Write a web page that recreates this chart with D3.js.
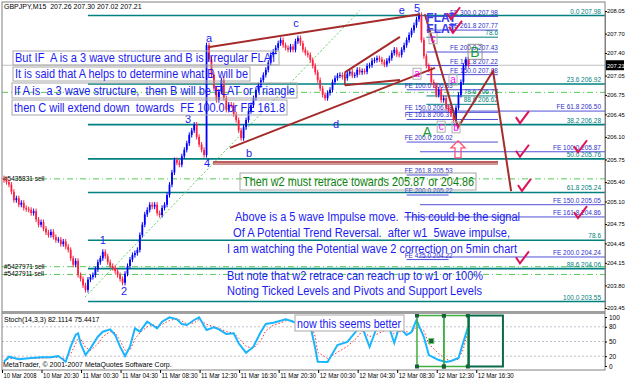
<!DOCTYPE html>
<html>
<head>
<meta charset="utf-8">
<script src="https://cdn.jsdelivr.net/npm/d3@7"></script>
<style>
  body { margin: 0; background: #fff; }
  text { font-family: "Liberation Sans", Arial, sans-serif; }
</style>
</head>
<body>
<div id="chart"></div>
<script>
// GBPJPY M15 closes (open = previous close)
var closes = [
  205.43, 205.40, 205.36, 205.25, 205.12, 205.15, 205.05, 205.08, 205.00, 204.98,
  204.97, 204.92, 204.95, 204.82, 204.74, 204.78, 204.68, 204.62, 204.58, 204.63,
  204.55, 204.50, 204.51, 204.44, 204.48, 204.40, 204.35, 204.22, 204.12, 204.18,
  203.96, 203.90, 203.80, 203.73, 203.89, 203.93, 203.96, 204.05, 204.16, 204.22,
  204.32, 204.25, 204.16, 204.10, 204.07, 204.02, 203.96, 203.90, 203.84, 203.98,
  204.10, 204.20, 204.27, 204.30, 204.35, 204.58, 204.74, 204.90, 204.97, 205.05,
  205.02, 205.05, 204.92, 204.89, 205.00, 205.05, 205.20, 205.36, 205.55, 205.74,
  205.70, 205.67, 205.80, 205.90, 206.00, 206.13, 206.20, 206.29, 206.10, 205.98,
  205.90, 205.82, 207.52, 207.30, 207.06, 206.85, 206.67, 206.80, 206.98, 206.70,
  206.52, 206.60, 206.59, 206.45, 206.36, 206.20, 206.08, 206.25, 206.36, 206.50,
  206.59, 206.70, 206.83, 206.90, 206.98, 207.06, 207.14, 207.25, 207.37, 207.42,
  207.48, 207.55, 207.60, 207.52, 207.48, 207.45, 207.50, 207.45, 207.58, 207.63,
  207.55, 207.45, 207.40, 207.37, 207.29, 207.20, 207.10, 206.98, 206.85, 206.75,
  206.70, 206.78, 206.83, 206.95, 207.01, 207.05, 207.06, 207.03, 207.01, 207.08,
  207.11, 207.05, 207.06, 207.14, 207.10, 207.12, 207.11, 207.20, 207.21, 207.28,
  207.29, 207.32, 207.30, 207.26, 207.22, 207.28, 207.32, 207.40, 207.45, 207.38,
  207.37, 207.45, 207.52, 207.60, 207.68, 207.75, 207.83, 207.92, 207.99, 207.60,
  207.35, 207.20, 207.14, 206.95, 206.90, 206.75, 206.83, 206.67, 206.70, 206.55,
  206.52, 206.45, 206.36, 206.55, 206.75, 206.95, 207.20, 207.30, 207.21
];

var priceTicks = [208.05, 207.70, 207.40, 207.05, 206.75, 206.45, 206.10, 205.75,
  205.40, 205.10, 204.75, 204.45, 204.15, 203.80, 203.45];
var timeLabels = ["10 Mar 2008", "10 Mar 20:30", "11 Mar 00:30", "11 Mar 04:30",
  "11 Mar 08:30", "11 Mar 12:30", "11 Mar 16:30", "11 Mar 20:30", "12 Mar 00:30",
  "12 Mar 04:30", "12 Mar 08:30", "12 Mar 12:30", "12 Mar 16:30"];

// fibo retracement
var fibLabels = ["0.0 207.98", "23.6 206.92", "38.2 206.28", "50.0 205.76",
  "61.8 205.24", "78.6", "88.6 204.06", "100.0 203.55"];
var fibPrices = [207.98, 206.92, 206.29, 205.76, 205.24, 204.50, 204.06, 203.55];

// fibo expansion levels on the right
var feLabels = ["FE 61.8 206.50", "FE 100.0 205.87", "FE 150.0 205.05",
  "FE 161.8 204.86", "FE 200.0 204.24"];
var fePrices = [206.50, 205.87, 205.05, 204.86, 204.24];

// small fibo cluster around the top
var topLabels = ["FE 300.0 207.98", "FE 261.8 207.77", "78.6", "FE 200.0 207.43",
  "FE 161.8 207.22", "FE 150.0 207.08", "78.6 206.75", "88.6 206.62"];
var topPrices = [207.98, 207.77, 207.66, 207.43, 207.22, 207.08, 206.75, 206.62];
var leftLabels = ["FE 100.0 206.83", "FE 150.0 206.48", "FE 161.8 206.37",
  "FE 200.0 206.02", "FE 261.8 205.53", "FE 200.0 205.22", "FE 425.0 204.22"];
var leftPrices = [206.83, 206.48, 206.37, 206.02, 205.51, 205.20, 204.20];

// pending orders
var orderLabels = ["", "#5435831 sell", "#5427971 sell", "#5427911 sell"];
var orderPrices = [206.79, 205.45, 204.09, 203.97];

// wave count
var waveNames = ["1", "2", "3", "4", "a", "b", "c", "d", "e", "5"];
var waveBars = [40, 48.6, 74.5, 82.2, 83, 99.2, 118.2, 134.4, 161.1, 167.2];
var wavePrices = [204.50, 203.71, 206.38, 205.70, 207.63, 205.85, 207.86, 206.30, 208.07, 208.10];
var subNames = ["a", "a", "c", "b", "c"];
var subBars = [167.2, 181.8, 177, 183, 173.7];
var subPrices = [207.07, 206.98, 206.25, 206.24, 207.62];
var bigNames = ["A", "B"];
var bigBars = [171.3, 190.7];
var bigPrices = [206.18, 207.41];

// drawn trend lines [bar, price]
var lineAE = [[82.6, 207.49], [168.4, 208.00]];
var lineBD = [[91.5, 205.93], [174.5, 207.17]];
var triUpper = [[138, 207.10], [160.3, 207.65]];
var triLower = [[138, 206.90], [160.3, 206.98]];
var line4 = [[84.6, 205.71], [200, 205.71]];
var zigzag = [[170.4, 208.00], [183.8, 206.25], [198, 207.12], [205.3, 205.26]];
var greenTrend = [[32.8, 203.62], [144.1, 208.06]];

// check marks
var checkBars = [181.8, 182.6, 209.7, 209.7, 233.2, 210.5, 233.2, 209.7];
var checkPrices = [208.00, 207.79, 206.39, 205.87, 205.94, 205.34, 204.92, 204.22];

// stochastic (14,3,3)
var stochBars = [0, 2, 6, 10, 15, 19, 22, 25, 27, 29, 30, 31, 33, 35, 38, 40, 43, 45, 47, 49,
  51, 53, 55, 58, 60, 62, 64, 67, 70, 72, 74, 77, 79, 82, 85, 87, 90, 93, 95, 98,
  101, 104, 106, 109, 112, 114, 116, 118, 120, 124, 126, 127, 131, 135, 139, 143, 145, 148, 151, 154,
  156, 158, 160, 163, 165, 167, 170, 172, 176, 179, 181, 184, 186, 188];
var stochK = [8.8, 19, 13.7, 15.7, 17.8, 17.8, 20.4, 8.8, 39.4, 63.3, 66.7, 46.3, 22.4, 36.1, 59.8, 70, 74.9, 63.3, 39.4, 20.4,
  39.4, 76.9, 70, 90.4, 83.7, 76.9, 90.4, 99.4, 95.3, 85.7, 83.7, 93.9, 99.4, 73.5, 79, 74.9, 65.3, 66.7, 46.3, 27.1,
  39.4, 70, 85.7, 88.4, 92.4, 95.3, 92.4, 88.4, 93.9, 83.7, 36.1, 8.8, 8.2, 42.9, 49, 73.5, 79.6, 38.8, 79.6, 77.6,
  77.6, 46.9, 79.6, 63.3, 69.4, 93.9, 59.2, 22.4, 12.2, 8.2, 10.2, 16.3, 49, 82.1];
var stochD = [10, 15, 16, 15, 16, 17, 18, 15, 25, 45, 58, 55, 38, 32, 45, 60, 70, 68, 52, 32,
  32, 55, 68, 80, 85, 80, 85, 93, 96, 92, 86, 88, 95, 85, 80, 77, 70, 67, 57, 40,
  36, 52, 72, 83, 88, 92, 93, 90, 91, 88, 60, 28, 15, 28, 40, 58, 72, 60, 65, 72,
  78, 65, 70, 70, 68, 80, 72, 45, 25, 14, 10, 14, 35, 75.4];
var stochTicks = [100, 80, 50, 20, 0];
var stochLevels = [80, 50, 20];
var boxBars = [[167.2, 178.1], [178.1, 187.8], [188.2, 202]];

var topNotes = ["But IF  A is a 3 wave structure and B is Irregular FLAT",
  "It is said that A helps to determine what B will be",
  "If A is  a 3 wave structure,  then B will be FLAT or Triangle",
  "then C will extend down  towards  FE 100.0 or FE 161.8"];
var w2Note = "Then w2 must retrace towards 205.87 or 204.86";
var impulseNotes = ["Above is a 5 wave Impulse move.  This could be the signal",
  "Of A Potential Trend Reversal.  after w1  5wave impulse,",
  "I am watching the Potential wave 2 correction on 5min chart",
  "But note that w2 retrace can reach up to w1 or 100%",
  "Noting Ticked Levels and Pivots and Support Levels"];
var stochNote = "now this seems better";

// ---------------------------------------------------------------
var svgWidth = 625;
var svgHeight = 380;
var right = 605;

var barX = d3.scaleLinear().domain([0, 100]).range([4, 251]);
var priceY = d3.scaleLinear().domain([203.45, 208.05]).range([308, 11]);
var stochY = d3.scaleLinear().domain([0, 100]).range([366, 317]);

var blue = "#1c1cf0";
var teal = "#008080";
var brown = "#a52a2a";

var svg = d3.select("#chart").append("svg")
  .attr("width", svgWidth)
  .attr("height", svgHeight);

svg.append("rect").attr("width", svgWidth).attr("height", svgHeight).attr("fill", "#fff");

var defs = svg.append("defs");
defs.append("clipPath").attr("id", "mainClip").append("rect")
  .attr("x", 2).attr("y", 2).attr("width", right - 2).attr("height", 309);
defs.append("clipPath").attr("id", "stochClip").append("rect")
  .attr("x", 2).attr("y", 314).attr("width", right - 2).attr("height", 56);

var main = svg.append("g").attr("clip-path", "url(#mainClip)");

function pt(d) { return [barX(d[0]), priceY(d[1])]; }

// current price line
main.append("line")
  .attr("x1", 2).attr("x2", right)
  .attr("y1", priceY(207.21)).attr("y2", priceY(207.21))
  .attr("stroke", "#c0c0c0");

// order lines
orderPrices.forEach(function(p, i) {
  main.append("line")
    .attr("x1", 2).attr("x2", right)
    .attr("y1", priceY(p)).attr("y2", priceY(p))
    .attr("stroke", "#55cc55").attr("stroke-dasharray", "6,3,1,3");
  if (orderLabels[i]) {
    main.append("text").attr("x", 4).attr("y", priceY(p) + 2)
      .attr("font-size", 6.5).attr("fill", "#000").text(orderLabels[i]);
  }
});

// fibo lines
fibPrices.forEach(function(p, i) {
  var y = priceY(p);
  main.append("line")
    .attr("x1", barX(34)).attr("x2", right)
    .attr("y1", y).attr("y2", y)
    .attr("stroke", teal).attr("stroke-width", 1.6);
  main.append("text").attr("x", 601).attr("y", y - 2)
    .attr("text-anchor", "end").attr("font-size", 6.5).attr("fill", teal)
    .text(fibLabels[i]);
});

// fibo expansion lines
fePrices.forEach(function(p, i) {
  var y = priceY(p);
  main.append("line")
    .attr("x1", i === 3 ? barX(162) : barX(168.4)).attr("x2", right)
    .attr("y1", y).attr("y2", y)
    .attr("stroke", "#5050d8").attr("stroke-width", 1);
  main.append("text").attr("x", 601).attr("y", y - 2)
    .attr("text-anchor", "end").attr("font-size", 6.5).attr("fill", "#3030c8")
    .text(feLabels[i]);
});

topPrices.forEach(function(p, i) {
  var y = priceY(p);
  main.append("line")
    .attr("x1", barX(171)).attr("x2", barX(200))
    .attr("y1", y + 1).attr("y2", y + 1)
    .attr("stroke", i === 2 || i > 5 ? teal : "#5050d8");
  main.append("text").attr("x", barX(200)).attr("y", y - 1)
    .attr("text-anchor", "end").attr("font-size", 6.5)
    .attr("fill", i === 2 || i > 5 ? teal : "#3030c8")
    .text(topLabels[i]);
});

leftPrices.forEach(function(p, i) {
  var y = priceY(p);
  main.append("line")
    .attr("x1", barX(163)).attr("x2", barX(i < 4 ? 200 : 180))
    .attr("y1", y).attr("y2", y)
    .attr("stroke", "#5050d8");
  main.append("text").attr("x", barX(162.2)).attr("y", y - 2)
    .attr("font-size", 6.5).attr("fill", "#3030c8")
    .text(leftLabels[i]);
});

// green dotted trend line
main.append("line")
  .attr("x1", pt(greenTrend[0])[0]).attr("y1", pt(greenTrend[0])[1])
  .attr("x2", pt(greenTrend[1])[0]).attr("y2", pt(greenTrend[1])[1])
  .attr("stroke", "#66cc66").attr("stroke-dasharray", "2,2");

// candles
var wick = 0.04;
var bars = closes.map(function(c, i) {
  var o = i ? closes[i - 1] : c + 0.03;
  return { i: i, o: o, c: c, hi: Math.max(o, c) + wick, lo: Math.min(o, c) - wick };
});
var candle = main.selectAll(".candle").data(bars).enter().append("g");
candle.append("line")
  .attr("x1", function(d) { return barX(d.i); })
  .attr("x2", function(d) { return barX(d.i); })
  .attr("y1", function(d) { return priceY(d.hi); })
  .attr("y2", function(d) { return priceY(d.lo); })
  .attr("stroke", function(d) { return d.c >= d.o ? "#0000ff" : "#ff2040"; })
  .attr("stroke-width", 1);
candle.append("rect")
  .attr("x", function(d) { return barX(d.i) - 0.9; })
  .attr("width", 1.8)
  .attr("y", function(d) { return priceY(Math.max(d.o, d.c)); })
  .attr("height", function(d) { return Math.max(1, Math.abs(priceY(d.o) - priceY(d.c))); })
  .attr("fill", function(d) { return d.c >= d.o ? "#0000ff" : "#ff2040"; });

// brown wave lines
var line = d3.line().x(function(d) { return barX(d[0]); }).y(function(d) { return priceY(d[1]); });
[lineAE, lineBD, triUpper, triLower, zigzag].forEach(function(seg) {
  main.append("path").attr("d", line(seg))
    .attr("fill", "none").attr("stroke", brown).attr("stroke-width", 2);
});
main.append("path").attr("d", line([triUpper[0], triLower[0]]))
  .attr("fill", "none").attr("stroke", brown).attr("stroke-width", 1.5);
main.append("path").attr("d", line(line4))
  .attr("fill", "none").attr("stroke", brown).attr("stroke-width", 1.5);
main.append("path").attr("d", line(line4.map(function(d) { return [d[0], d[1] - 0.03]; })))
  .attr("fill", "none").attr("stroke", brown).attr("stroke-width", 1);

// wave labels
waveNames.forEach(function(n, i) {
  main.append("text")
    .attr("x", barX(waveBars[i])).attr("y", priceY(wavePrices[i]) + 4)
    .attr("text-anchor", "middle").attr("font-size", 11).attr("fill", blue)
    .text(n);
});
subNames.forEach(function(n, i) {
  var x = barX(subBars[i]), y = priceY(subPrices[i]);
  main.append("rect").attr("x", x - 4).attr("y", y - 6).attr("width", 8).attr("height", 11)
    .attr("fill", "none").attr("stroke", "#b0b0b0");
  main.append("text").attr("x", x).attr("y", y + 3)
    .attr("text-anchor", "middle").attr("font-size", 10).attr("fill", "#ff00ff")
    .text(n);
});
bigNames.forEach(function(n, i) {
  var x = barX(bigBars[i]), y = priceY(bigPrices[i]);
  if (n === "B") {
    main.append("rect").attr("x", x - 7).attr("y", y - 8).attr("width", 14).attr("height", 15)
      .attr("fill", "none").attr("stroke", "#909090");
  }
  main.append("text").attr("x", x).attr("y", y + 5)
    .attr("text-anchor", "middle").attr("font-size", 14).attr("fill", "#1a9a3a")
    .text(n);
});

// FLAT labels
["FLAT", "FLAT"].forEach(function(t, i) {
  main.append("text")
    .attr("x", barX(171)).attr("y", priceY(i ? 207.79 : 207.95) + 5)
    .attr("font-size", 12).attr("font-weight", "bold").attr("fill", "#3a3af0")
    .text(t);
});

// check marks
checkBars.forEach(function(b, i) {
  var x = barX(b), y = priceY(checkPrices[i]);
  main.append("path")
    .attr("d", "M" + (x - 6) + "," + (y - 1) + "L" + (x - 2) + "," + (y + 5) + "L" + (x + 7) + "," + (y - 7))
    .attr("fill", "none").attr("stroke", "#dd1155").attr("stroke-width", 2);
});

// hollow up arrow
(function() {
  var x = barX(183.8), y = priceY(205.90);
  main.append("path")
    .attr("d", "M" + x + "," + (y - 9) + "L" + (x + 7) + "," + (y - 2) + "L" + (x + 3) + "," + (y - 2) +
      "L" + (x + 3) + "," + (y + 8) + "L" + (x - 3) + "," + (y + 8) + "L" + (x - 3) + "," + (y - 2) +
      "L" + (x - 7) + "," + (y - 2) + "Z")
    .attr("fill", "none").attr("stroke", "#ff5070").attr("stroke-width", 1.3);
})();

// text notes
function note(g, str, x, y, len, size, color) {
  return g.append("text")
    .attr("x", x).attr("y", y)
    .attr("textLength", len).attr("lengthAdjust", "spacingAndGlyphs")
    .attr("font-size", size).attr("fill", color)
    .style("white-space", "pre")
    .text(str);
}
var topBoxes = [[13, 51, 266, 14], [13, 67, 237, 14], [12, 83, 285, 15], [12, 100, 275, 15]];
var topBase = [62, 78, 95, 112];
var topLen = [262, 233, 281, 271];
topNotes.forEach(function(t, i) {
  var b = topBoxes[i];
  main.append("rect").attr("x", b[0]).attr("y", b[1]).attr("width", b[2]).attr("height", b[3])
    .attr("fill", "none").attr("stroke", "#a8a8a8");
  note(main, t, b[0] + 2, topBase[i], topLen[i], 12, blue);
});

main.append("rect").attr("x", 240).attr("y", 173).attr("width", 236).attr("height", 17)
  .attr("fill", "none").attr("stroke", "#a8a8a8");
note(main, w2Note, 243, 186, 231, 12.5, "#108010");

var impX = [235, 233, 227, 227, 227];
var impBase = [221, 237, 253, 280, 295];
var impLen = [285, 277, 290, 256, 255];
impulseNotes.forEach(function(t, i) {
  note(main, t, impX[i], impBase[i], impLen[i], 12, blue);
});

main.append("text").attr("x", 4).attr("y", 9).attr("font-size", 7).attr("fill", "#000")
  .style("white-space", "pre")
  .text("GBPJPY,M15  207.26 207.30 207.02 207.21");

// ----------------- stochastic panel
svg.append("rect").attr("x", 2).attr("y", 311).attr("width", right - 2).attr("height", 3)
  .attr("fill", "#a0a0a0");

var sub = svg.append("g").attr("clip-path", "url(#stochClip)");
stochLevels.forEach(function(v) {
  sub.append("line").attr("x1", 2).attr("x2", right)
    .attr("y1", stochY(v)).attr("y2", stochY(v))
    .attr("stroke", "#c0c0d0").attr("stroke-dasharray", "2,2");
});

var stochLine = d3.line()
  .x(function(d, i) { return barX(stochBars[i]); })
  .y(function(d) { return stochY(d); });
sub.append("path").attr("d", stochLine(stochD))
  .attr("fill", "none").attr("stroke", "#ff3030").attr("stroke-width", 1)
  .attr("stroke-dasharray", "1.5,2");
sub.append("path").attr("d", stochLine(stochK))
  .attr("fill", "none").attr("stroke", "#19b5fe").attr("stroke-width", 2);

boxBars.forEach(function(b, i) {
  var x0 = barX(b[0]), x1 = barX(b[1]), y0 = stochY(103), y1 = stochY(-1);
  sub.append("rect").attr("x", x0).attr("y", y0).attr("width", x1 - x0).attr("height", y1 - y0)
    .attr("fill", "none").attr("stroke", i < 2 ? "#3fae3f" : "#0b6a4a").attr("stroke-width", i < 2 ? 1.5 : 2);
  if (i < 2) {
    [[x0, y0], [x1, y0], [x0, y1], [x1, y1]].forEach(function(c) {
      sub.append("rect").attr("x", c[0] - 2).attr("y", c[1] - 2).attr("width", 4).attr("height", 4)
        .attr("fill", "#1b5e3b");
    });
  }
});
sub.append("rect").attr("x", barX(172.8) - 2).attr("y", stochY(50) - 3).attr("width", 5).attr("height", 5)
  .attr("fill", "#1b5e3b").attr("stroke", "#6c6");

sub.append("rect").attr("x", 295).attr("y", 315).attr("width", 109).attr("height", 16)
  .attr("fill", "#fff").attr("stroke", "#a8a8a8");
note(sub, stochNote, 297, 328, 104, 12.5, blue);

sub.append("text").attr("x", 4).attr("y", 322).attr("font-size", 7).attr("fill", "#000")
  .text("Stoch(14,3,3) 82.1114 75.4417");
sub.append("text").attr("x", 3).attr("y", 367).attr("font-size", 7).attr("fill", "#000")
  .text("MetaTrader, \u00a9 2001-2007 MetaQuotes Software Corp.");

// ----------------- frame and axes
svg.append("rect").attr("x", 2).attr("y", 2).attr("width", right - 2).attr("height", 368)
  .attr("fill", "none").attr("stroke", "#808080");

var yAxis = d3.axisRight(priceY).tickValues(priceTicks).tickSize(2)
  .tickFormat(d3.format(".2f"));
var gy = svg.append("g").attr("transform", "translate(" + right + ",0)").call(yAxis);

var sAxis = d3.axisRight(stochY).tickValues(stochTicks).tickSize(2);
var gs = svg.append("g").attr("transform", "translate(" + right + ",0)").call(sAxis);

var xAxis = d3.axisBottom(barX)
  .tickValues(d3.range(0, 193, 16))
  .tickFormat(function(d, i) { return timeLabels[i]; })
  .tickSize(3);
var gx = svg.append("g").attr("transform", "translate(-2,370)").call(xAxis);

[gy, gs, gx].forEach(function(g) {
  g.select(".domain").attr("stroke", "#808080");
  g.selectAll(".tick line").attr("stroke", "#000");
  g.selectAll("text").attr("font-size", 6.5).attr("fill", "#000")
    .attr("font-family", "'Liberation Sans', Arial, sans-serif");
});
gx.select(".domain").remove();
gx.selectAll("text").attr("text-anchor", "start").attr("x", 1).attr("y", 3)
  .attr("textLength", function(d, i) { return i === 0 ? 33 : 36; })
  .attr("lengthAdjust", "spacingAndGlyphs");
gy.selectAll("text").attr("x", 2).attr("font-size", 5.8);
gs.selectAll("text").attr("x", 4);

// current price tag
svg.append("rect").attr("x", 606).attr("y", priceY(207.21) - 5).attr("width", 18).attr("height", 10)
  .attr("fill", "#000");
svg.append("text").attr("x", 607).attr("y", priceY(207.21) + 3)
  .attr("font-size", 5.8).attr("fill", "#fff")
  .text("207.21");
</script>
</body>
</html>
